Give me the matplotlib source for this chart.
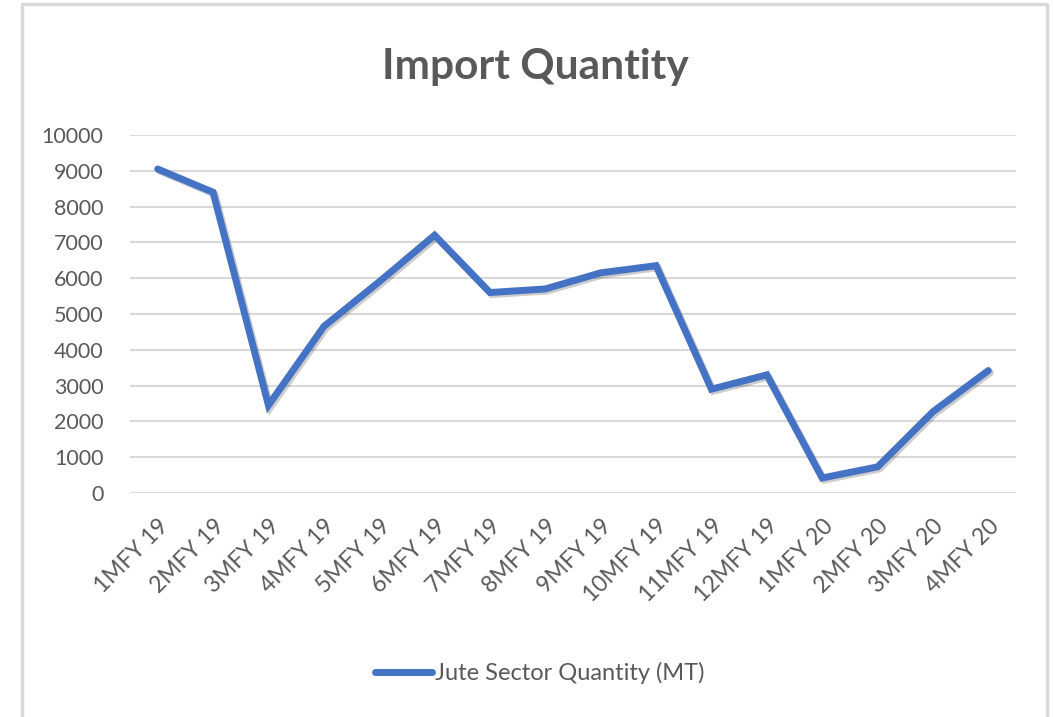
import matplotlib.pyplot as plt
import matplotlib.patheffects as pe
from matplotlib.lines import Line2D

plt.rcParams['font.family'] = ['Lato', 'DejaVu Sans']

months = ["1MFY 19", "2MFY 19", "3MFY 19", "4MFY 19", "5MFY 19", "6MFY 19",
          "7MFY 19", "8MFY 19", "9MFY 19", "10MFY 19", "11MFY 19", "12MFY 19",
          "1MFY 20", "2MFY 20", "3MFY 20", "4MFY 20"]
quantity = [9050, 8400, 2450, 4650, 5900, 7200, 5600, 5700, 6150, 6350,
            2900, 3300, 420, 730, 2270, 3420]
series_name = "Jute Sector Quantity (MT)"
yticks = list(range(0, 10001, 1000))

grey = "#595959"
blue = "#4472C4"

fig = plt.figure(figsize=(10.53, 7.17), dpi=100)
ax = fig.add_axes([130/1053, 1 - 493/717, (1016 - 130)/1053, (493 - 135)/717])

x = list(range(len(months)))
ax.plot(x, quantity, color=blue, lw=5, solid_joinstyle='miter', solid_capstyle='round',
        path_effects=[pe.SimpleLineShadow(offset=(1.5, -1.5), shadow_color='k', alpha=0.2),
                      pe.Normal()], zorder=3)

ax.set_xlim(-0.5, len(months) - 0.5)
ax.set_ylim(0, 10000)
ax.set_yticks(yticks)
ax.set_yticklabels([str(v) for v in yticks], fontsize=15.5, color=grey)
ax.set_xticks(x)
ax.set_xticklabels(months, rotation=45, ha='right', rotation_mode='anchor',
                   fontsize=16.5, color=grey)
ax.tick_params(length=0, axis='y', pad=19)
ax.tick_params(length=0, axis='x', pad=16)
ax.grid(axis='y', color='#d9d9d9', lw=1.5)
ax.set_axisbelow(True)
for s in ax.spines.values():
    s.set_visible(False)

fig.text(535/1053, 1 - 67/717, "Import Quantity", ha='center', va='center',
         fontsize=30.5, fontweight='bold', color=grey)

handle = Line2D([], [], color=blue, lw=5, solid_capstyle='round')
fig.legend([handle], [series_name], loc='center', bbox_to_anchor=(540/1053, 1 - 673/717),
           frameon=False, fontsize=17, labelcolor=grey, handlelength=2.4, handletextpad=0.15)

# chart border
fig.add_artist(Line2D([22/1053, 22/1053, 1047/1053, 1047/1053], [0, 1 - 4/717, 1 - 4/717, 0],
                      transform=fig.transFigure, color='#d9d9d9', lw=2.5))

fig.savefig("out.png", dpi=100)
